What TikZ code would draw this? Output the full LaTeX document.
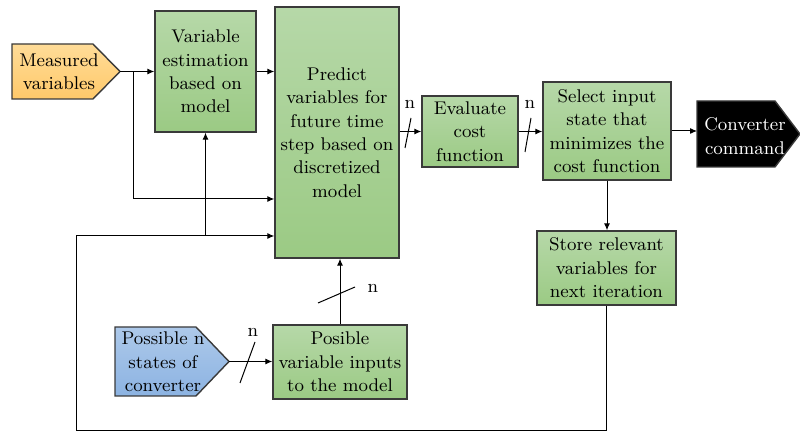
\documentclass[tikz,border=0pt]{standalone}
\usepackage{xcolor}
\usetikzlibrary{arrows.meta}

\definecolor{boxtop}{HTML}{B6D8A8}
\definecolor{boxbot}{HTML}{9BCA84}
\definecolor{boxline}{HTML}{3A3A3A}
\definecolor{orangetop}{HTML}{FFDC98}
\definecolor{orangebot}{HTML}{FFC96A}
\definecolor{bluetop}{HTML}{ADC9EA}
\definecolor{bluebot}{HTML}{8CB3E2}

\tikzset{
  blockbox/.style={draw=boxline, line width=0.7pt, top color=boxtop, bottom color=boxbot,
    align=center, inner sep=1pt},
  tagshape/.style={draw=boxline, line width=0.7pt},
  tagtext/.style={align=center, inner sep=0pt},
  conn/.style={line width=0.5pt, -{Latex[length=3.5pt,width=3pt]}},
  slash/.style={line width=0.5pt},
  nlabel/.style={inner sep=0pt}
}

\begin{document}
\begin{tikzpicture}[x=0.5pt, y=-0.5pt, font=\fontsize{9.2}{11.7}\selectfont]
  \useasboundingbox (0,0) rectangle (800,433);

  % inputs and output (arrow shaped tags)
  \draw[tagshape, top color=orangetop, bottom color=orangebot]
    (12,44) -- (93,44) -- (120,71.5) -- (93,99) -- (12,99) -- cycle;
  \node[tagtext] (meas) at (59,72) {Measured\\variables};
  \coordinate (meastip) at (120,71.5);

  \draw[tagshape, top color=bluetop, bottom color=bluebot]
    (115,327) -- (196,327) -- (229,361.5) -- (196,396) -- (115,396) -- cycle;
  \node[tagtext] (states) at (163,362) {Possible n\\states of\\converter};
  \coordinate (statestip) at (229,361.5);

  \draw[tagshape, fill=black]
    (697,101) -- (775,101) -- (800,134) -- (775,167) -- (697,167) -- cycle;
  \node[tagtext, text=white] (cmd) at (745,136) {Converter\\command};
  \coordinate (cmdin) at (697,131);

  % blocks
  \node[blockbox, minimum width=50.5pt, minimum height=60.5pt] (est) at (205.5,71.5)
        {Variable\\estimation\\based on\\model};
  \node[blockbox, minimum width=62pt, minimum height=125.5pt] (pred) at (337,132.5)
        {Predict\\variables for\\future time\\step based on\\discretized\\model};
  \node[blockbox, minimum width=48pt, minimum height=35.5pt] (eval) at (470,131.5)
        {Evaluate\\cost\\function};
  \node[blockbox, minimum width=64pt, minimum height=49pt] (sel) at (607,131)
        {Select input\\state that\\minimizes the\\cost function};
  \node[blockbox, minimum width=69.5pt, minimum height=37pt] (store) at (606.5,268)
        {Store relevant\\variables for\\next iteration};
  \node[blockbox, minimum width=67pt, minimum height=37pt] (inp) at (340,362)
        {Posible\\variable inputs\\to the model};

  % connectors
  \draw[conn] (meastip) -- (meastip -| est.west);
  \draw[conn] (est.east) -- (est.east -| pred.west);
  \draw[conn] (133,71.5) |- (pred.west |- 0,199);
  \draw[conn] (store.south) -- ++(0,125) -| (76,236) -- (pred.west |- 0,236);
  \draw[conn] (est.south |- 0,236) -- (est.south);
  \draw[conn] (pred.east |- eval.west) -- (eval.west);
  \draw[conn] (eval.east) -- (eval.east -| sel.west);
  \draw[conn] (sel.east) -- (sel.east -| cmdin);
  \draw[conn] (sel.south) -- (sel.south |- store.north);
  \draw[conn] (statestip) -- (statestip -| inp.west);
  \draw[conn] (inp.north) -- (inp.north |- pred.south);

  % bus marks
  \draw[slash] (405,148) -- (411,118);
  \node[nlabel] (n1) at (410,104) {n};
  \draw[slash] (525,152) -- (531,118);
  \node[nlabel] (n2) at (530,104) {n};
  \draw[slash] (240,383) -- (255,342);
  \node[nlabel] (n3) at (253,332) {n};
  \draw[slash] (318,303) -- (355,287);
  \node[nlabel] (n4) at (373,288) {n};
\end{tikzpicture}
\end{document}
